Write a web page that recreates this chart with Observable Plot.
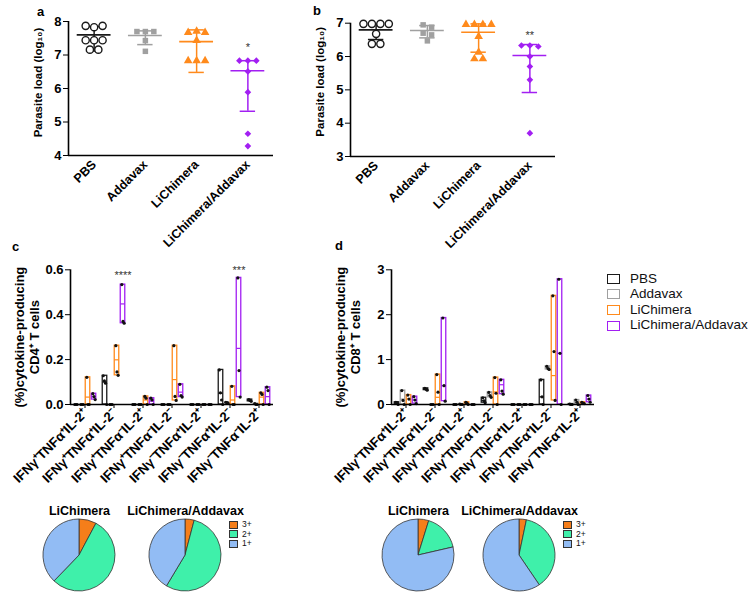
<!DOCTYPE html>
<html><head><meta charset="utf-8">
<script src="https://cdn.jsdelivr.net/npm/d3@7"></script>
<script src="https://cdn.jsdelivr.net/npm/@observablehq/plot@0.6"></script>
<style>
body{margin:0;background:#fff;font-family:Arial,"Liberation Sans",Helvetica,sans-serif;}
#fig{position:relative;width:750px;height:601px;overflow:hidden;background:#fff;}
#fig svg{position:absolute;overflow:visible;}
.abs{position:absolute;white-space:nowrap;line-height:1;}
</style></head><body><div id="fig"></div>
<script>
const FONT = "Arial, 'Liberation Sans', Helvetica, sans-serif";
const groups = ["PBS", "Addavax", "LiChimera", "LiChimera/Addavax"];
const groupColors = ["#1a1a1a", "#a0a0a0", "#ff8a1c", "#a21ff2"];

// Panel a: parasite load (log10)
const aPBS = [7.87, 7.83, 7.87, 7.44, 7.44, 7.44, 7.16, 7.16];
const aAddavax = [7.70, 7.70, 7.70, 7.43, 7.11];
const aLiChimera = [7.67, 7.71, 7.67, 7.43, 6.83, 6.83, 6.83];
const aLiChimeraAddavax = [6.83, 6.83, 6.83, 6.51, 5.89, 4.65, 4.28];
const aCenter = [7.60, 7.58, 7.40, 6.53];
const aLow = [7.12, 7.31, 6.48, 5.32];
const aHigh = [7.85, 7.72, 7.75, 6.83];
const aStar = {group: 3, value: 7.22, text: "*"};

// Panel b: parasite load (log10)
const bPBS = [6.98, 6.98, 6.98, 6.98, 6.68, 6.38, 6.38];
const bAddavax = [6.95, 6.88, 6.70, 6.65, 6.47];
const bLiChimera = [6.96, 6.96, 6.96, 6.96, 6.60, 6.13, 5.93, 5.93];
const bLiChimeraAddavax = [6.33, 6.33, 6.30, 6.00, 5.70, 5.30, 3.70];
const bCenter = [6.80, 6.78, 6.73, 6.03];
const bLow = [6.51, 6.56, 6.13, 4.92];
const bHigh = [6.97, 6.93, 6.98, 6.36];
const bStar = {group: 3, value: 6.62, text: "**"};

// Panels c/d categories
const catLabels = ["IFNγ⁺TNFα⁺IL-2⁺", "IFNγ⁺TNFα⁺IL-2⁻", "IFNγ⁺TNFα⁻IL-2⁺", "IFNγ⁺TNFα⁻IL-2⁻", "IFNγ⁻TNFα⁺IL-2⁺", "IFNγ⁻TNFα⁺IL-2⁻", "IFNγ⁻TNFα⁻IL-2⁺"];

// Panel c: CD4+ T cells (%)
const cd4PBS = [[0,0,0],[0.128,0.105,0.095,0],[0,0,0],[0,0,0],[0,0,0],[0.154,0.052,0.02,0],[0.022,0.018,0.014]];
const cd4PBSMean = [0,0.1,0,0,0,0.05,0.018];
const cd4Addavax = [[0,0,0],[0,0,0],[0,0,0],[0,0,0],[0,0,0],[0.01,0.008,0.005],[0.004,0,0]];
const cd4AddavaxMean = [0,0,0,0,0,0.008,0.002];
const cd4LiChimera = [[0.121,0,0],[0.262,0.145,0.13],[0.036,0.028,0],[0.262,0.036,0.018],[0,0,0],[0.081,0,0],[0.052,0.045,0]];
const cd4LiChimeraMean = [0.033,0.199,0.02,0.111,0,0.02,0.033];
const cd4LiChimeraAddavax = [[0.048,0.035,0.022],[0.534,0.37,0.362],[0.028,0.02,0],[0.09,0.04,0.033],[0,0,0],[0.564,0.151,0.033],[0.077,0.062,0]];
const cd4LiChimeraAddavaxMean = [0.035,0.448,0.015,0.055,0,0.25,0.035];
const cd4Stars = [{cat: 1, value: 0.575, text: "****"}, {cat: 5, value: 0.595, text: "***"}];

// Panel d: CD8+ T cells (%)
const cd8PBS = [[0.05,0.04,0],[0.36,0.34,0.32],[0,0,0],[0.15,0.08,0.04],[0,0,0],[0.548,0.17,0],[0.01,0,0]];
const cd8PBSMean = [0.03,0.34,0,0.09,0,0.17,0.004];
const cd8Addavax = [[0.31,0.09,0],[0,0,0],[0.01,0,0],[0.27,0.2,0.16],[0,0,0],[0.85,0.8,0.78],[0.1,0.05,0]];
const cd8AddavaxMean = [0.12,0,0.004,0.21,0,0.81,0.05];
const cd8LiChimera = [[0.21,0.12,0],[0.667,0.274,0],[0.05,0.03,0],[0.6,0.25,0],[0,0,0],[2.42,1.178,0.09],[0.05,0.03,0.02]];
const cd8LiChimeraMean = [0.126,0.16,0.03,0.28,0,0.644,0.03];
const cd8LiChimeraAddavax = [[0.175,0.1,0.02],[1.926,0.42,0.074],[0,0,0],[0.55,0.3,0.23],[0,0,0],[2.79,1.14,0],[0.2,0.12,0.05]];
const cd8LiChimeraAddavaxMean = [0.1,0.42,0,0.44,0,1.14,0.12];

// Pies: share of responding cells (%)
const pieTitles = ["LiChimera", "LiChimera/Addavax"];
const pieKeys = ["3+", "2+", "1+"];
const pieColors = ["#f57e1a", "#3ff0aa", "#92bcf4"];
const cd4PieLiChimera = [7.8, 54.4, 37.8];
const cd4PieLiChimeraAddavax = [4.1, 54.5, 41.4];
const cd8PieLiChimera = [4.8, 16.6, 78.6];
const cd8PieLiChimeraAddavax = [3.3, 37.2, 59.5];

const fig = document.getElementById("fig");
function place(node, left, top) { node.style.left = left + "px"; node.style.top = top + "px"; fig.appendChild(node); }
function addText(text, left, top, css) {
  const d = document.createElement("div"); d.className = "abs"; d.textContent = text;
  d.style.cssText += css; d.style.left = left + "px"; d.style.top = top + "px"; fig.appendChild(d); return d;
}

function scatterPanel({pts, center, low, high, yDomain, star, mt, mb, label, labelDy}) {
  const dots = [];
  pts.forEach((arr, g) => {
    const clusters = [];
    arr.forEach(v => {
      const c = clusters.find(c => Math.abs(c.v0 - v) < 0.12);
      if (c) c.items.push(v); else clusters.push({v0: v, items: [v]});
    });
    clusters.forEach(c => c.items.forEach((v, k) =>
      dots.push({name: groups[g], v, x: g + (k - (c.items.length - 1) / 2) * 0.165})));
  });
  const summ = groups.map((name, g) => ({name, g, c: center[g], lo: low[g], hi: high[g]}));
  const sel = n => dots.filter(d => d.name === n);
  return Plot.plot({
    width: 290, height: 250, marginLeft: 68, marginRight: 17, marginTop: mt, marginBottom: mb,
    style: {fontFamily: FONT, background: "transparent", overflow: "visible", color: "#000"},
    x: {domain: [-0.5, 3.5]},
    y: {domain: yDomain},
    color: {domain: groups, range: groupColors},
    marks: [
      Plot.ruleX(summ, {x: "g", y1: "lo", y2: "hi", stroke: "name", strokeWidth: 1.5}),
      Plot.ruleY(summ, {y: "c", x1: d => d.g - 0.33, x2: d => d.g + 0.33, stroke: "name", strokeWidth: 1.6}),
      Plot.ruleY(summ, {y: "lo", x1: d => d.g - 0.15, x2: d => d.g + 0.15, stroke: "name", strokeWidth: 1.5}),
      Plot.ruleY(summ, {y: "hi", x1: d => d.g - 0.15, x2: d => d.g + 0.15, stroke: "name", strokeWidth: 1.5}),
      Plot.dot(sel("PBS"), {x: "x", y: "v", r: 3.6, stroke: "name", fill: "white", strokeWidth: 1.4}),
      Plot.dot(sel("Addavax"), {x: "x", y: "v", r: 3.1, symbol: "square", fill: "name"}),
      Plot.dot(sel("LiChimera"), {x: "x", y: "v", r: 3.2, symbol: "triangle", fill: "name"}),
      Plot.dot(sel("LiChimera/Addavax"), {x: "x", y: "v", r: 3.0, symbol: "diamond2", fill: "name"}),
      Plot.ruleX([-0.5], {strokeWidth: 1.6}),
      Plot.ruleY([yDomain[0]], {strokeWidth: 1.6}),
      Plot.axisY({ticks: d3.range(yDomain[0], yDomain[1] + 1), tickFormat: d3.format("d"), tickSize: 5, tickPadding: 2, fontSize: 13, fontWeight: "bold", label: null}),
      Plot.axisX({ticks: [0, 1, 2, 3], tickFormat: i => groups[i], tickSize: 0, tickPadding: 7, tickRotate: -45, fontSize: 12.5, fontWeight: "bold", label: null}),
      Plot.text([label], {frameAnchor: "left", textAnchor: "middle", rotate: -90, dx: -30, dy: labelDy, fontSize: 11.5, fontWeight: "bold", text: d => d}),
      Plot.text([star], {x: "group", y: "value", text: "text", fontSize: 11, fill: "#333"})
    ]
  });
}

function barPanel({series, means, yDomain, yTicks, yFormat, stars, label}) {
  const step = 0.207;
  const rows = [], dots = [];
  series.forEach((cats, g) => cats.forEach((arr, c) => {
    const x = c + (g - 1.5) * step;
    rows.push({name: groups[g], x, lo: d3.min(arr), hi: d3.max(arr), mid: means[g][c]});
    arr.forEach((v, j) => dots.push({x: x + (j - (arr.length - 1) / 2) * 0.04, v}));
  }));
  return Plot.plot({
    width: 290, height: 260, marginLeft: 70, marginRight: 17, marginTop: 19.3, marginBottom: 106,
    style: {fontFamily: FONT, background: "transparent", overflow: "visible", color: "#000"},
    x: {domain: [-0.5, 6.5]},
    y: {domain: yDomain},
    color: {domain: groups, range: groupColors},
    marks: [
      Plot.rect(rows, {x1: d => d.x - 0.078, x2: d => d.x + 0.078, y1: "lo", y2: "hi", stroke: "name", fill: "none", strokeWidth: 1.3}),
      Plot.ruleY(rows, {y: "mid", x1: d => d.x - 0.078, x2: d => d.x + 0.078, stroke: "name", strokeWidth: 1.2}),
      Plot.dot(dots, {x: "x", y: "v", r: 1.6, fill: "#111"}),
      Plot.ruleX([-0.5], {strokeWidth: 1.6}),
      Plot.ruleY([yDomain[0]], {strokeWidth: 1.6}),
      Plot.axisY({ticks: yTicks, tickFormat: yFormat, tickSize: 5, tickPadding: 2, fontSize: 13, fontWeight: "bold", label: null}),
      Plot.axisX({ticks: d3.range(7), tickFormat: i => catLabels[i], tickSize: 4, tickPadding: 3, tickRotate: -45, fontSize: 13.2, fontWeight: "bold", label: null}),
      Plot.text([label], {frameAnchor: "left", textAnchor: "middle", rotate: -90, dx: -44, fontSize: 13, fontWeight: "bold", lineHeight: 1.15, text: d => d}),
      Plot.text(stars, {x: d => d.cat + 1.5 * step, y: "value", text: "text", fontSize: 11, fill: "#333"})
    ]
  });
}

function piePanel(values, mr) {
  const arc = d3.arc().innerRadius(0).outerRadius(36);
  const pie = d3.pie().sort(null);
  const data = pieTitles.map((t, i) => ({title: t, vals: values[i]}));
  return Plot.plot({
    width: 250, height: 101, marginLeft: 79, marginRight: mr, marginTop: 19, marginBottom: 10,
    style: {fontFamily: FONT, background: "transparent", overflow: "visible", color: "#000"},
    x: {type: "point", domain: pieTitles, padding: 0, axis: null},
    marks: [
      Plot.text(data, {x: "title", frameAnchor: "top", lineAnchor: "middle", dy: -8.5, text: "title", fontSize: 12.5, fontWeight: "bold"}),
      (index, scales, values2, dims) => {
        const g = d3.create("svg:g");
        const cy = (dims.marginTop + dims.height - dims.marginBottom) / 2;
        data.forEach((d, i) => {
          const cx = scales.x ? scales.x(d.title) : dims.marginLeft + i * (dims.width - dims.marginLeft - dims.marginRight);
          const gg = g.append("g").attr("transform", `translate(${cx},${cy})`);
          gg.selectAll("path").data(pie(d.vals)).join("path")
            .attr("d", arc).attr("fill", (a, k) => pieColors[k])
            .attr("stroke", "#333").attr("stroke-width", 0.8);
        });
        return g.node();
      }
    ]
  });
}

place(scatterPanel({pts: [aPBS, aAddavax, aLiChimera, aLiChimeraAddavax], center: aCenter, low: aLow, high: aHigh,
  yDomain: [4, 8], star: aStar, mt: 21, mb: 95, label: "Parasite load (log₁₀)", labelDy: -6}), 0, 0);
place(scatterPanel({pts: [bPBS, bAddavax, bLiChimera, bLiChimeraAddavax], center: bCenter, low: bLow, high: bHigh,
  yDomain: [3, 7], star: bStar, mt: 22.7, mb: 94, label: "Parasite load (log₁₀)", labelDy: -8}), 282, 0);
place(barPanel({series: [cd4PBS, cd4Addavax, cd4LiChimera, cd4LiChimeraAddavax],
  means: [cd4PBSMean, cd4AddavaxMean, cd4LiChimeraMean, cd4LiChimeraAddavaxMean],
  yDomain: [0, 0.6], yTicks: [0, 0.2, 0.4, 0.6], yFormat: d3.format(".1f"), stars: cd4Stars,
  label: "(%)cytokine-producing\nCD4⁺ T cells"}), 0, 250);
place(barPanel({series: [cd8PBS, cd8Addavax, cd8LiChimera, cd8LiChimeraAddavax],
  means: [cd8PBSMean, cd8AddavaxMean, cd8LiChimeraMean, cd8LiChimeraAddavaxMean],
  yDomain: [0, 3], yTicks: [0, 1, 2, 3], yFormat: d3.format("d"), stars: [],
  label: "(%)cytokine-producing\nCD8⁺ T cells"}), 321, 250);
place(piePanel([cd4PieLiChimera, cd4PieLiChimeraAddavax], 65), 0, 500);
place(piePanel([cd8PieLiChimera, cd8PieLiChimeraAddavax], 70), 339, 500);

// panel letters
addText("a", 37, 5, "font-weight:bold;font-size:13px;");
addText("b", 313, 4, "font-weight:bold;font-size:13px;");
addText("c", 12, 240, "font-weight:bold;font-size:13px;");
addText("d", 335, 239, "font-weight:bold;font-size:13px;");

// series legend
[279, 294.3, 310, 325.7].forEach((y, i) => {
  const b = document.createElement("div"); b.className = "abs";
  b.style.cssText += `left:607px;top:${y - 5}px;width:11px;height:8px;border:1.5px solid ${groupColors[i]};`;
  fig.appendChild(b);
  addText(groups[i], 630, y - 7.5, "font-size:13.5px;color:#111;");
});
// pie legends
[[229, 242], [563, 576]].forEach(([bx, tx]) => {
  [524, 533.5, 543].forEach((y, k) => {
    const b = document.createElement("div"); b.className = "abs";
    b.style.cssText += `left:${bx}px;top:${y - 3.5}px;width:7px;height:6px;background:${pieColors[k]};border:1px solid #333;`;
    fig.appendChild(b);
    addText(pieKeys[k], tx, y - 4, "font-size:8.5px;line-height:8px;color:#111;");
  });
});
</script></body></html>
